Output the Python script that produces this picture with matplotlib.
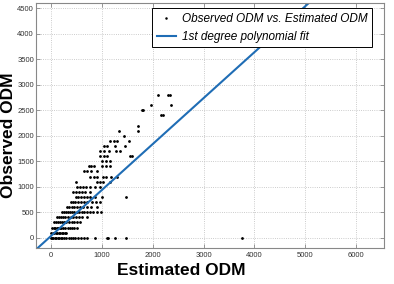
import numpy as np
import matplotlib
matplotlib.use("Agg")
import matplotlib.pyplot as plt

est_odm = [
    0, 20, 40, 70, 100, 130, 160, 190, 220, 260, 300, 340, 380, 420, 470, 520, 580, 640, 700, 860, 1090, 1110, 1260, 1480, 3750,
    0, 30, 60, 90, 120, 150, 180, 210, 240, 270, 300,
    20, 50, 80, 110, 140, 170, 200, 240, 280, 320, 360, 400, 450, 510,
    50, 90, 130, 170, 210, 250, 300, 350, 400, 450, 500, 570,
    120, 160, 200, 240, 280, 330, 380, 430, 480, 540, 600, 700,
    215, 250, 290, 330, 370, 410, 450, 500, 550, 600, 650, 700, 760, 820, 900, 970,
    310, 350, 400, 450, 500, 560, 620, 700, 780, 900,
    380, 420, 470, 520, 580, 640, 700, 800, 880, 960,
    480, 530, 580, 640, 700, 760, 870, 1000, 1480,
    420, 480, 540, 600, 660, 770,
    510, 560, 620, 690, 760, 860, 960,
    480, 900, 960, 1020, 1150,
    770, 840, 900, 1020, 1080, 1180, 1290,
    640, 700, 780, 900,
    740, 790, 840, 1000, 1080, 1160,
    1000, 1080, 1160,
    960, 1040, 1100, 1560, 1590,
    960, 1040, 1130, 1280, 1360,
    1040, 1100, 1250, 1450,
    1160, 1230, 1300, 1540,
    1430,
    1340, 1700,
    1700,
    2170, 2200,
    1780, 1810,
    1960, 2360,
    2100, 2300, 2330,
]
obs_odm = (
    [0] * 25 + [100] * 11 + [200] * 14 + [300] * 12 + [400] * 12 + [500] * 16
    + [600] * 10 + [700] * 10 + [800] * 9 + [900] * 6 + [1000] * 7 + [1100] * 5
    + [1200] * 7 + [1300] * 4 + [1400] * 6 + [1500] * 3 + [1600] * 5 + [1700] * 5
    + [1800] * 4 + [1900] * 4 + [2000] * 1 + [2100] * 2 + [2200] * 1 + [2400] * 2
    + [2500] * 2 + [2600] * 2 + [2800] * 3
)
fit_coef = [0.9, 40]  # pente, ordonnee a l'origine

xticks = [0, 1000, 2000, 3000, 4000, 5000, 6000]
yticks = [0, 500, 1000, 1500, 2000, 2500, 3000, 3500, 4000, 4500]
xlim = (-300, 6550)
ylim = (-200, 4600)

plt.rcParams['font.family'] = ['Liberation Sans', 'DejaVu Sans']

fig = plt.figure(figsize=(3.94, 2.84), dpi=100)
ax = fig.add_axes([0.0914, 0.1268, 0.8832, 0.862])

ax.plot(est_odm, obs_odm, '.', color='black', markersize=2,
        label='Observed ODM vs. Estimated ODM')
xx = np.array(xlim)
ax.plot(xx, np.polyval(fit_coef, xx), color='#1f6db5', linewidth=1.5,
        label='1st degree polynomial fit')

ax.set_xlim(xlim)
ax.set_ylim(ylim)
ax.set_xticks(xticks)
ax.set_yticks(yticks)
ax.tick_params(direction='in', top=True, right=True, labelsize=5.5,
               labelcolor='#333333', color='#888888', length=3, width=0.6, pad=3)
ax.tick_params(axis='y', pad=1.5)
for s in ax.spines.values():
    s.set_color('#888888')
    s.set_linewidth(0.8)
ax.grid(True, linestyle=':', color='#bbbbbb', linewidth=0.6)

ax.set_xlabel('Estimated ODM', fontsize=12.5, fontweight='bold')
ax.set_ylabel('Observed ODM', fontsize=12.5, fontweight='bold')
ax.xaxis.set_label_coords(0.417, -0.06)
ax.yaxis.set_label_coords(-0.057, 0.46)

leg = ax.legend(loc='upper right', bbox_to_anchor=(0.966, 0.98), borderaxespad=0,
                fancybox=False, framealpha=1, edgecolor='black', handlelength=1.6,
                handletextpad=0.5, markerscale=0.8,
                prop={'size': 8.5, 'style': 'italic'})
leg.get_frame().set_linewidth(0.7)

fig.savefig('out.png', dpi=100)
